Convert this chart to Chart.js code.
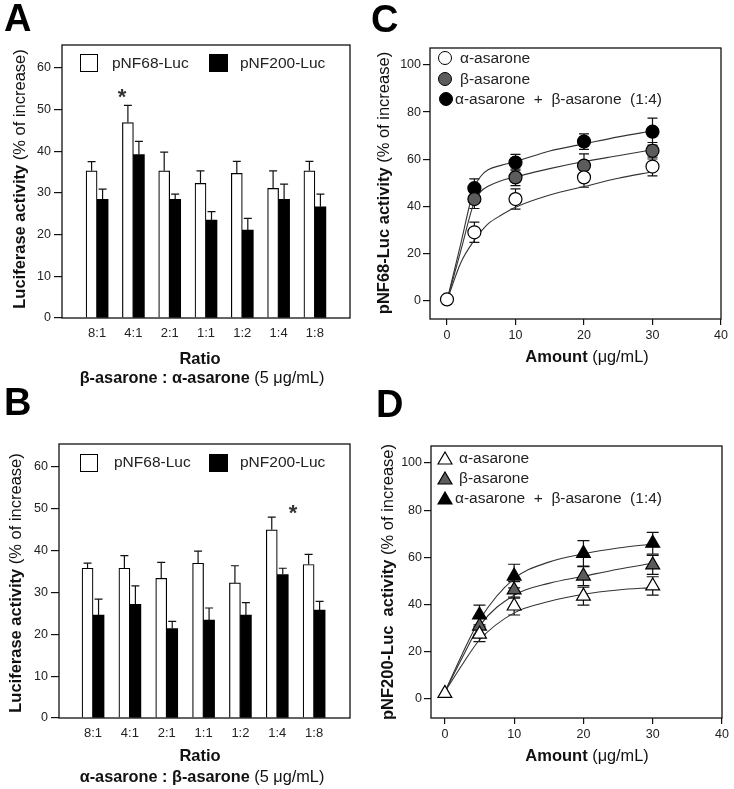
<!DOCTYPE html>
<html><head><meta charset="utf-8">
<script src="https://cdn.jsdelivr.net/npm/chart.js@4.4.0/dist/chart.umd.min.js"></script>
<style>
body{margin:0;background:#fff;}
#page{position:relative;width:734px;height:789px;overflow:hidden;font-family:"Liberation Sans",Arial,sans-serif;color:#111;}
canvas{position:absolute;}
.t{position:absolute;white-space:pre;line-height:1;}
.rot{transform:translate(-50%,-50%) rotate(-90deg);}
.ctr{transform:translate(-50%,-50%);}
.lg{transform:translateY(-50%);font-size:15.5px;color:#222;}
.letter{position:absolute;font-size:38px;font-weight:bold;line-height:38px;color:#000;}
.ttl{font-size:16.5px;color:#111;}
.sub{font-size:16.3px;color:#111;}
.sq{position:absolute;box-sizing:border-box;}
.circ{position:absolute;box-sizing:border-box;border-radius:50%;border:1.2px solid #000;width:14px;height:14px;transform:translate(-50%,-50%);}
.ast{position:absolute;font-size:22px;font-weight:bold;line-height:22px;color:#333;transform:translateX(-50%);}
svg{position:absolute;}
</style>
</head>
<body>
<div id="page">
  <canvas id="cA" width="367" height="380" style="left:0;top:0"></canvas>
  <canvas id="cB" width="367" height="409" style="left:0;top:380px"></canvas>
  <canvas id="cC" width="367" height="380" style="left:367px;top:0"></canvas>
  <canvas id="cD" width="367" height="409" style="left:367px;top:380px"></canvas>

  <div class="letter" style="left:4px;top:-1px">A</div>
  <div class="letter" style="left:4px;top:383px">B</div>
  <div class="letter" style="left:371px;top:0px">C</div>
  <div class="letter" style="left:376px;top:385px">D</div>

  <!-- Panel A texts -->
  <div class="t ttl rot" style="left:19px;top:179px"><b>Luciferase activity</b> (% of increase)</div>
  <div class="t ctr" style="left:200px;top:358px;font-size:16.5px;font-weight:bold">Ratio</div>
  <div class="t sub ctr" style="left:202px;top:377px"><b>β-asarone : α-asarone</b> (5 μg/mL)</div>
  <div class="sq" style="left:80px;top:54px;width:18px;height:18px;border:1.2px solid #000;background:#fff"></div>
  <div class="t lg" style="left:112px;top:63px">pNF68-Luc</div>
  <div class="sq" style="left:209px;top:54px;width:19px;height:18px;background:#000"></div>
  <div class="t lg" style="left:240px;top:63px">pNF200-Luc</div>
  <div class="ast" style="left:122px;top:86px">*</div>

  <!-- Panel B texts -->
  <div class="t ttl rot" style="left:15px;top:583px"><b>Luciferase activity</b> (% of increase)</div>
  <div class="t ctr" style="left:200px;top:755px;font-size:16.5px;font-weight:bold">Ratio</div>
  <div class="t sub ctr" style="left:202px;top:776px"><b>α-asarone : β-asarone</b> (5 μg/mL)</div>
  <div class="sq" style="left:80px;top:454px;width:18px;height:18px;border:1.2px solid #000;background:#fff"></div>
  <div class="t lg" style="left:114px;top:462px">pNF68-Luc</div>
  <div class="sq" style="left:209px;top:454px;width:19px;height:18px;background:#000"></div>
  <div class="t lg" style="left:240px;top:462px">pNF200-Luc</div>
  <div class="ast" style="left:293px;top:502px">*</div>

  <!-- Panel C texts -->
  <div class="t ttl rot" style="left:383px;top:183px"><b>pNF68-Luc activity</b> (% of increase)</div>
  <div class="t sub ctr" style="left:587px;top:356px"><b style="font-size:16.5px">Amount</b> (μg/mL)</div>
  <div class="circ" style="left:445px;top:58px;background:#fff"></div>
  <div class="t lg" style="left:460px;top:58px">α-asarone</div>
  <div class="circ" style="left:445px;top:79px;background:#5c5c5c"></div>
  <div class="t lg" style="left:460px;top:79px">β-asarone</div>
  <div class="circ" style="left:446px;top:99px;background:#000"></div>
  <div class="t lg" style="left:455px;top:99px">α-asarone  +  β-asarone  (1:4)</div>

  <!-- Panel D texts -->
  <div class="t ttl rot" style="left:387px;top:582px"><b>pNF200-Luc  activity</b> (% of increase)</div>
  <div class="t sub ctr" style="left:587px;top:755px"><b style="font-size:16.5px">Amount</b> (μg/mL)</div>
  <svg width="16" height="14" style="left:437px;top:451px"><polygon points="8,1 15,13 1,13" fill="#fff" stroke="#000" stroke-width="1.2"/></svg>
  <div class="t lg" style="left:459px;top:458px">α-asarone</div>
  <svg width="16" height="14" style="left:437px;top:471px"><polygon points="8,1 15,13 1,13" fill="#5c5c5c" stroke="#000" stroke-width="1.2"/></svg>
  <div class="t lg" style="left:459px;top:478px">β-asarone</div>
  <svg width="16" height="14" style="left:437px;top:491px"><polygon points="8,1 15,13 1,13" fill="#000" stroke="#000" stroke-width="1.2"/></svg>
  <div class="t lg" style="left:455px;top:498px">α-asarone  +  β-asarone  (1:4)</div>
</div>

<script>
// ---------- Data: panel A (β-asarone : α-asarone) ----------
const ratioLabelsA = ['8:1', '4:1', '2:1', '1:1', '1:2', '1:4', '1:8'];
const pnf68A     = [35.3, 46.9, 35.3, 32.3, 34.7, 31.1, 35.3];
const pnf68AErr  = [2.2, 4.1, 4.5, 3.0, 2.9, 4.2, 2.3];
const pnf200A    = [28.5, 39.2, 28.5, 23.5, 21.1, 28.5, 26.7];
const pnf200AErr = [2.4, 3.2, 1.2, 2.0, 2.8, 3.6, 3.0];

// ---------- Data: panel B (α-asarone : β-asarone) ----------
const ratioLabelsB = ['8:1', '4:1', '2:1', '1:1', '1:2', '1:4', '1:8'];
const pnf68B     = [35.8, 35.8, 33.4, 37.0, 32.3, 45.0, 36.7];
const pnf68BErr  = [1.2, 3.0, 3.8, 2.9, 4.1, 3.0, 2.4];
const pnf200B    = [24.6, 27.2, 21.4, 23.4, 24.6, 34.3, 25.8];
const pnf200BErr = [3.8, 4.4, 1.7, 2.9, 3.0, 1.5, 2.1];
const barYTicks  = [0, 10, 20, 30, 40, 50, 60];

// ---------- Data: panel C (pNF68-Luc) ----------
const amountC    = [0, 4, 10, 20, 30];
const alphaC     = [0.5, 29.0, 43.1, 52.3, 56.9];
const alphaCErr  = [0, 4.3, 4.3, 4.2, 4.0];
const betaC      = [null, 43.1, 52.3, 57.3, 63.6];
const betaCErr   = [0, 4.0, 3.5, 5.0, 3.5];
const comboC     = [null, 47.7, 58.6, 67.5, 71.7];
const comboCErr  = [0, 4.0, 3.5, 3.3, 5.7];
// fitted curves
const fitAmountC = [0, 2, 4, 5, 6, 8, 10, 15, 20, 25, 30];
const alphaFitC  = [0, 16, 25.7, 29.5, 32.6, 36.4, 39.6, 44.8, 48.4, 51.9, 54.7];
const betaFitC   = [0, 21, 42, 46.5, 48.5, 51, 52.5, 56, 59, 61.5, 64];
const comboFitC  = [0, 24, 48, 53, 55.5, 57.5, 59, 63.5, 66.5, 69.5, 72];

// ---------- Data: panel D (pNF200-Luc) ----------
const amountD    = [0, 5, 10, 20, 30];
const alphaD     = [2.4, 27.5, 39.4, 43.6, 47.9];
const alphaDErr  = [0, 3.2, 3.8, 3.8, 3.9];
const betaD      = [null, 30.9, 46.2, 52.1, 56.8];
const betaDErr   = [0, 3.5, 3.5, 4.0, 4.0];
const comboD     = [null, 35.6, 52.1, 61.7, 66.0];
const comboDErr  = [0, 4.2, 5.0, 5.4, 4.6];
const fitAmountD = [0, 2.5, 5, 10, 15, 20, 25, 30];
const alphaFitD  = [3, 14.5, 25, 36.5, 41.3, 44.4, 46.2, 47.2];
const betaFitD   = [3, 17.5, 31, 44, 49, 52, 55, 57.5];
const comboFitD  = [3, 19, 33.5, 51, 58, 61.5, 64, 65.7];

const lineYTicks = [0, 20, 40, 60, 80, 100];
const lineXTicks = [0, 10, 20, 30, 40];

const FONT = '"Liberation Sans", Arial, sans-serif';

function drawErrors(chart) {
  const ctx = chart.ctx, ys = chart.scales.y;
  chart.data.datasets.forEach((ds, di) => {
    if (!ds.errors) return;
    const meta = chart.getDatasetMeta(di);
    meta.data.forEach((el, i) => {
      const v = ds.data[i].y, e = ds.errors[i];
      if (v == null || !e) return;
      const x = el.x, cap = ds.errCap || 4;
      const yTop = ys.getPixelForValue(v + e);
      const yBot = ds.errBoth ? ys.getPixelForValue(v - e) : ys.getPixelForValue(v);
      ctx.save();
      ctx.strokeStyle = '#111'; ctx.lineWidth = 1.2;
      ctx.beginPath();
      ctx.moveTo(x, yTop); ctx.lineTo(x, yBot);
      ctx.moveTo(x - cap, yTop); ctx.lineTo(x + cap, yTop);
      if (ds.errBoth) { ctx.moveTo(x - cap, yBot); ctx.lineTo(x + cap, yBot); }
      ctx.stroke();
      ctx.restore();
    });
  });
}
const errorPlugin = {
  id: 'errorBars',
  beforeDatasetsDraw(chart) { if (chart.config.type === 'line') drawErrors(chart); },
  afterDatasetsDraw(chart) { if (chart.config.type === 'bar') drawErrors(chart); }
};
const boxPlugin = {
  id: 'box',
  afterDraw(chart) {
    const a = chart.chartArea, ctx = chart.ctx;
    ctx.save(); ctx.strokeStyle = '#111'; ctx.lineWidth = 1.3;
    ctx.strokeRect(a.left, a.top, a.right - a.left, a.bottom - a.top);
    ctx.restore();
  }
};

const pts = (xs, ys) => xs.map((x, i) => ({ x: x, y: ys[i] }));

function barChart(id, labels, s1, e1, s2, e2, xmin, xmax, pad) {
  return new Chart(document.getElementById(id), {
    type: 'bar',
    data: {
      datasets: [
        { label: 'pNF68-Luc', data: s1.map((v, i) => ({ x: i, y: v })), errors: e1, errCap: 4,
          backgroundColor: '#fff', borderColor: '#000', borderWidth: 1.2, borderSkipped: 'bottom', barThickness: 11 },
        { label: 'pNF200-Luc', data: s2.map((v, i) => ({ x: i, y: v })), errors: e2, errCap: 4,
          backgroundColor: '#000', borderColor: '#000', borderWidth: 0, barThickness: 11 }
      ]
    },
    options: {
      responsive: false, animation: false, devicePixelRatio: 1,
      layout: { padding: pad },
      plugins: { legend: { display: false }, tooltip: { enabled: false } },
      scales: {
        x: {
          type: 'linear', min: xmin, max: xmax,
          grid: { display: false }, border: { display: false },
          afterBuildTicks: s => { s.ticks = labels.map((_, i) => ({ value: i })); },
          afterFit: s => { s.height = 30; },
          ticks: { callback: v => labels[v], color: '#222', font: { family: FONT, size: 13 }, padding: 0, autoSkip: false, maxRotation: 0 }
        },
        y: {
          min: 0, max: 65.5,
          afterBuildTicks: s => { s.ticks = barYTicks.map(v => ({ value: v })); },
          afterFit: s => { s.width = 40; },
          grid: { drawOnChartArea: false, tickLength: 8, color: '#111', lineWidth: 1.2 },
          border: { display: false },
          ticks: { color: '#222', font: { family: FONT, size: 12.5 }, padding: 3 }
        }
      }
    },
    plugins: [errorPlugin, boxPlugin]
  });
}

function doseChart(id, style, amt, a, ae, b, be, c, ce, fx, fa, fb, fc, xmin, ymin, pad) {
  const r = style === 'circle' ? 6.5 : 8;
  const mk = (data, err, fill) => ({
    data: data, errors: err, errBoth: true, errCap: style === 'circle' ? 5 : 6,
    showLine: false, pointStyle: style, pointRadius: r, pointHoverRadius: r,
    pointBackgroundColor: fill, pointBorderColor: '#000', pointBorderWidth: 1.2
  });
  const fit = data => ({
    data: data, pointRadius: 0, borderColor: '#333', borderWidth: 1.1,
    cubicInterpolationMode: 'monotone', fill: false
  });
  return new Chart(document.getElementById(id), {
    type: 'line',
    data: {
      datasets: [
        mk(pts(amt, a), ae, '#fff'),
        mk(pts(amt, b), be, '#5c5c5c'),
        mk(pts(amt, c), ce, '#000'),
        fit(pts(fx, fa)), fit(pts(fx, fb)), fit(pts(fx, fc))
      ]
    },
    options: {
      responsive: false, animation: false, devicePixelRatio: 1,
      layout: { padding: pad },
      plugins: { legend: { display: false }, tooltip: { enabled: false } },
      scales: {
        x: {
          type: 'linear', min: xmin, max: 40,
          afterBuildTicks: s => { s.ticks = lineXTicks.map(v => ({ value: v })); },
          afterFit: s => { s.height = 30; },
          grid: { drawOnChartArea: false, tickLength: 6, color: '#111', lineWidth: 1.2 },
          border: { display: false },
          ticks: { color: '#222', font: { family: FONT, size: 12.5 }, padding: 3, maxRotation: 0 }
        },
        y: {
          min: ymin, max: 107.2,
          afterBuildTicks: s => { s.ticks = lineYTicks.map(v => ({ value: v })); },
          afterFit: s => { s.width = 40; },
          grid: { drawOnChartArea: false, tickLength: 7, color: '#111', lineWidth: 1.2 },
          border: { display: false },
          ticks: { color: '#222', font: { family: FONT, size: 12.5 }, padding: 2 }
        }
      }
    },
    plugins: [errorPlugin, boxPlugin]
  });
}

barChart('cA', ratioLabelsA, pnf68A, pnf68AErr, pnf200A, pnf200AErr, -0.4, 6.4,
  { left: 22, right: 17, top: 45, bottom: 32 });
barChart('cB', ratioLabelsB, pnf68B, pnf68BErr, pnf200B, pnf200BErr, -0.36, 6.41,
  { left: 19, right: 17, top: 64, bottom: 41 });
doseChart('cC', 'circle', amountC, alphaC, alphaCErr, betaC, betaCErr, comboC, comboCErr,
  fitAmountC, alphaFitC, betaFitC, comboFitC, -2.48, -7.8,
  { left: 23, right: 13, top: 48, bottom: 31 });
doseChart('cD', 'triangle', amountD, alphaD, alphaDErr, betaD, betaDErr, comboD, comboDErr,
  fitAmountD, alphaFitD, betaFitD, comboFitD, -2.0, -8.05,
  { left: 24, right: 12, top: 66, bottom: 41 });
</script>
</body></html>
